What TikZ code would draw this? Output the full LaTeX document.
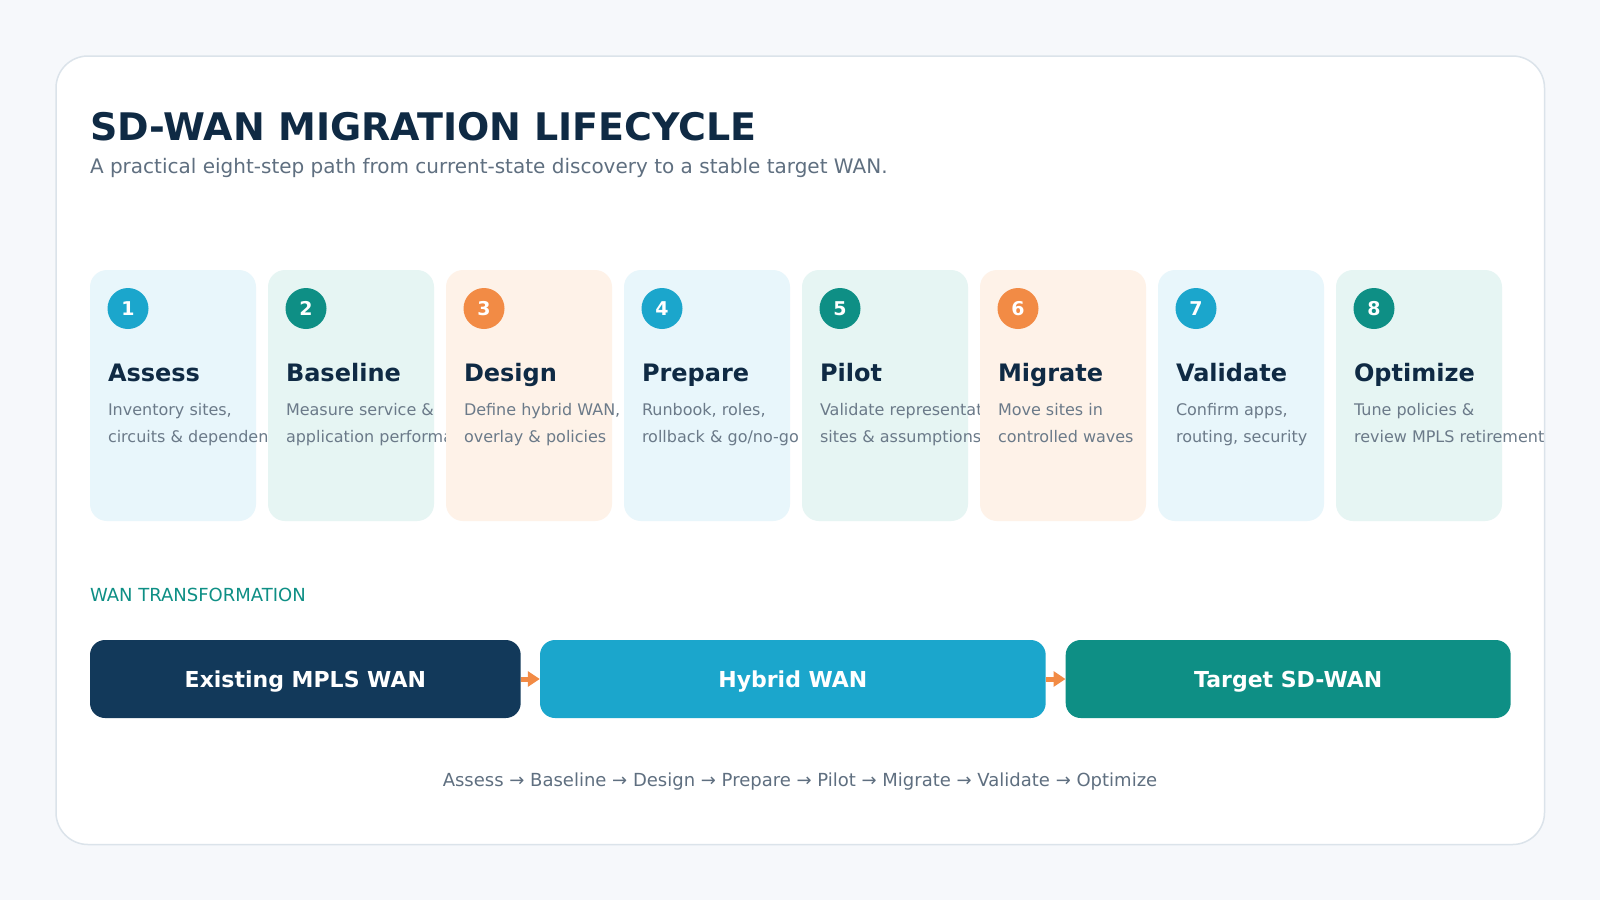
\documentclass[tikz,border=0pt]{standalone}
\usepackage{fontspec}
\setmainfont{DejaVu Sans}
\usetikzlibrary{arrows.meta}
\definecolor{pagebg}{HTML}{F6F8FB}
\definecolor{cardborder}{HTML}{DBE3EA}
\definecolor{navy}{HTML}{0F2A44}
\definecolor{subgray}{HTML}{5F6F80}
\definecolor{descgray}{HTML}{6B7A89}
\definecolor{bluebg}{HTML}{E8F6FB}
\definecolor{tealbg}{HTML}{E6F5F3}
\definecolor{orangebg}{HTML}{FEF2E8}
\definecolor{blueacc}{HTML}{1BA6CC}
\definecolor{tealacc}{HTML}{0E8F85}
\definecolor{orangeacc}{HTML}{F28B45}
\definecolor{barnavy}{HTML}{12395A}
\tikzset{
  txt/.style={anchor=base west, inner sep=0pt, outer sep=0pt},
  stepcardbox/.style={fill=#1, rounded corners=17pt, draw=none},
  numdot/.style={circle, fill=#1, minimum size=41pt, inner sep=0pt, text=white,
    font=\fontsize{19}{19}\selectfont\bfseries},
  steptitle/.style={txt, text=navy, font=\fontsize{24}{24}\selectfont\bfseries},
  stepdesc/.style={txt, text=descgray, font=\fontsize{16}{16}\selectfont},
  wanbar/.style={fill=#1, rounded corners=15pt, minimum height=78pt, inner sep=0pt},
  barlabel/.style={anchor=base, inner sep=0pt, text=white, font=\fontsize{22}{22}\selectfont\bfseries},
  flowarrow/.style={draw=orangeacc, line width=5pt, -{Triangle[length=12pt,width=15pt]}}
}
\newcommand\stepcard[7]{%
  \path[stepcardbox=#3] (#2,270) rectangle ++(166,251);
  \node[numdot=#4] (num#1) at (#2+38,308.5) {#1};
  \node[steptitle] (title#1) at (#2+18,381) {#5};
  \node[stepdesc] (desca#1) at (#2+18,415) {#6};
  \node[stepdesc] (descb#1) at (#2+18,442.5) {#7};
}
\begin{document}
\begin{tikzpicture}[x=1pt,y=-1pt]
\useasboundingbox (0,0) rectangle (1600,900);
\fill[pagebg] (0,0) rectangle (1600,900);
\path[fill=white, draw=cardborder, line width=1.5pt, rounded corners=32pt] (56,56) rectangle (1544.5,844.5);
\node[txt, text=navy, font=\fontsize{38}{38}\selectfont\bfseries] (maintitle) at (90,140.5) {SD-WAN MIGRATION LIFECYCLE};
\node[txt, text=subgray, font=\fontsize{20}{20}\selectfont] (subtitle) at (90,173) {A practical eight-step path from current-state discovery to a stable target WAN.};
\stepcard{1}{90}{bluebg}{blueacc}{Assess}{Inventory sites,}{circuits \& dependencies}
\stepcard{2}{268}{tealbg}{tealacc}{Baseline}{Measure service \&}{application performance}
\stepcard{3}{446}{orangebg}{orangeacc}{Design}{Define hybrid WAN,}{overlay \& policies}
\stepcard{4}{624}{bluebg}{blueacc}{Prepare}{Runbook, roles,}{rollback \& go/no-go}
\stepcard{5}{802}{tealbg}{tealacc}{Pilot}{Validate representative}{sites \& assumptions}
\stepcard{6}{980}{orangebg}{orangeacc}{Migrate}{Move sites in}{controlled waves}
\stepcard{7}{1158}{bluebg}{blueacc}{Validate}{Confirm apps,}{routing, security}
\stepcard{8}{1336}{tealbg}{tealacc}{Optimize}{Tune policies \&}{review MPLS retirement}
\node[txt, text=tealacc, font=\fontsize{18}{18}\selectfont] (wanlabel) at (90,601.5) {WAN TRANSFORMATION};
\node[wanbar=barnavy, minimum width=430.7pt] (bar1) at (305.35,679) {};
\node[wanbar=blueacc, minimum width=505.7pt] (bar2) at (792.85,679) {};
\node[wanbar=tealacc, minimum width=445pt] (bar3) at (1288.2,679) {};
\node[barlabel] (lab1) at (305.35,687) {Existing MPLS WAN};
\node[barlabel] (lab2) at (792.85,687) {Hybrid WAN};
\node[barlabel] (lab3) at (1288.2,687) {Target SD-WAN};
\draw[flowarrow] (bar1.east) -- (bar2.west);
\draw[flowarrow] (bar2.east) -- (bar3.west);
\node[anchor=base, inner sep=0pt, text=subgray, font=\fontsize{18}{18}\selectfont] (footer) at (800,786) {Assess → Baseline → Design → Prepare → Pilot → Migrate → Validate → Optimize};
\end{tikzpicture}
\end{document}
